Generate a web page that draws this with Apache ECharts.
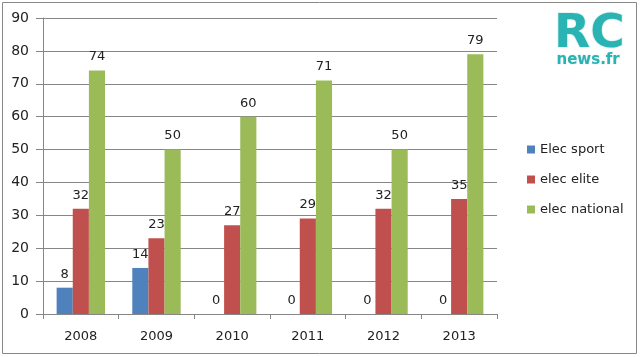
<!DOCTYPE html>
<html><head><meta charset="utf-8">
<script src="https://cdn.jsdelivr.net/npm/echarts@6/dist/echarts.min.js"></script>
<style>html,body{margin:0;padding:0;background:#fff}#c{width:640px;height:357px}</style>
</head><body><div id="c"></div>
<script>
const categories = ['2008','2009','2010','2011','2012','2013'];
const elecSport = [8,14,0,0,0,0];
const elecElite = [32,23,27,29,32,35];
const elecNational = [74,50,60,71,50,79];
const seriesNames = ['Elec sport','elec elite','elec national'];
const colors = ['#4F81BD','#C0504D','#9BBB59'];
const font = 'DejaVu Sans';
const chart = echarts.init(document.getElementById('c'));
const lbl = {show:true,position:'top',color:'#222',fontFamily:font,fontSize:13,distance:7};
chart.setOption({
  animation:false,
  textStyle:{fontFamily:font},
  grid:{left:43,right:143,top:18,bottom:43,containLabel:false},
  legend:{orient:'vertical',left:522,top:138,itemWidth:8,itemHeight:8,itemGap:17,
    icon:'rect',textStyle:{fontFamily:font,fontSize:13,color:'#222'},data:seriesNames},
  xAxis:{type:'category',data:categories,
    axisLine:{lineStyle:{color:'#868686'}},
    axisTick:{show:true,length:5,lineStyle:{color:'#868686'}},
    axisLabel:{color:'#222',fontFamily:font,fontSize:13,margin:16}},
  yAxis:{type:'value',min:0,max:90,interval:10,
    axisLine:{show:true,lineStyle:{color:'#868686'}},
    axisTick:{show:true,length:7,lineStyle:{color:'#868686'}},
    splitLine:{lineStyle:{color:'#868686'}},
    axisLabel:{color:'#222',fontFamily:font,fontSize:14,margin:14}},
  series:[
    {name:seriesNames[0],type:'bar',data:elecSport,itemStyle:{color:colors[0]},barGap:'0%',barCategoryGap:'36%',label:lbl},
    {name:seriesNames[1],type:'bar',data:elecElite,itemStyle:{color:colors[1]},barGap:'0%',barCategoryGap:'36%',label:lbl},
    {name:seriesNames[2],type:'bar',data:elecNational,itemStyle:{color:colors[2]},barGap:'0%',barCategoryGap:'36%',label:lbl}
  ],
  graphic:[
    {type:'rect',shape:{x:2.5,y:2.5,width:634,height:351},style:{fill:'none',stroke:'#888',lineWidth:1}},
    {type:'text',left:553,top:10,style:{text:'RC',font:'bold 47px "DejaVu Sans"',fill:'#2ab3b3',stroke:'#e6f4f4',lineWidth:2}},
    {type:'text',left:556,top:52,style:{text:'news.fr',font:'bold 15px "DejaVu Sans"',fill:'#2ab3b3',stroke:'#e6f4f4',lineWidth:1}}
  ]
});
</script></body></html>
